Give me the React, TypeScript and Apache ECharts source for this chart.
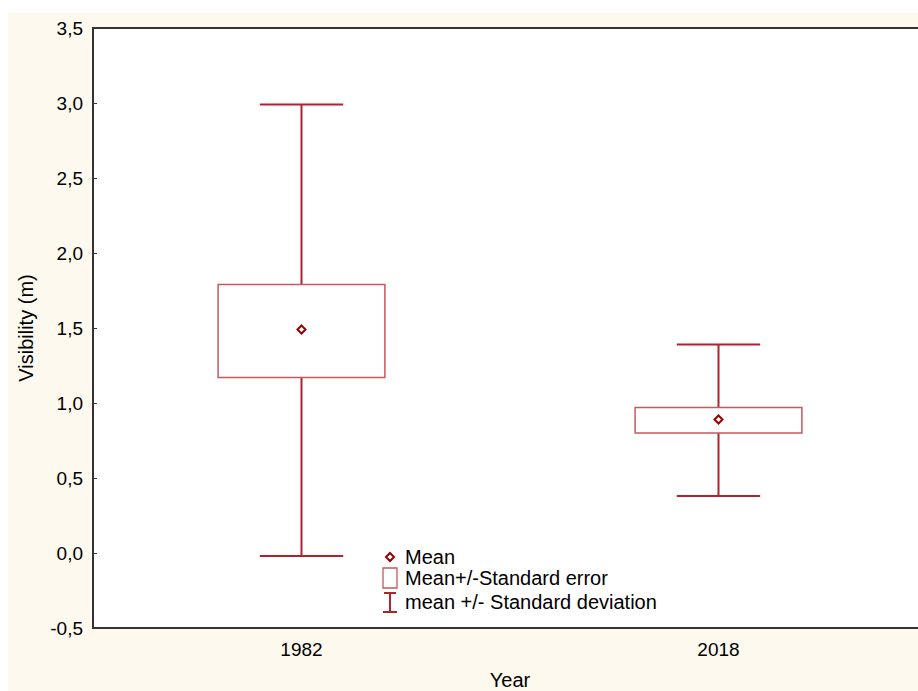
import React, { useEffect, useRef } from 'react';
import * as echarts from 'echarts';

const categories = ['1982', '2018'];
const means = [1.49, 0.89];
const seLow = [1.17, 0.8];
const seHigh = [1.79, 0.97];
const sdLow = [-0.02, 0.38];
const sdHigh = [2.99, 1.39];
const legendLabels = ['Mean', 'Mean+/-Standard error', 'mean +/- Standard deviation'];

const OX = 8;
const OY = 13;
const FONT = '"Liberation Sans", Arial, sans-serif';
const WHISKER = '#b0222c';
const BOX = '#c25a5e';
const MEANC = '#9a0000';

export default function App() {
  const ref = useRef<HTMLDivElement>(null);
  useEffect(() => {
    if (!ref.current) return;
    const chart = echarts.init(ref.current, null, { renderer: 'svg' });
    const data = categories.map((_, i) => [i, means[i], seLow[i], seHigh[i], sdLow[i], sdHigh[i]]);
    const lx = 390 - OX;
    const ly = [557 - OY, 578 - OY, 602 - OY];
    chart.setOption({
      animation: false,
      grid: {
        left: 85,
        top: 15,
        right: -9,
        bottom: 63,
        outerBoundsMode: 'none',
        containLabel: false,
        show: true,
        backgroundColor: '#ffffff',
        borderColor: '#333333',
        borderWidth: 2,
      },
      xAxis: {
        type: 'category',
        data: categories,
        name: 'Year',
        nameLocation: 'middle',
        nameGap: 42,
        nameTextStyle: { fontFamily: FONT, fontSize: 20, color: '#000' },
        axisLine: { onZero: false, lineStyle: { color: '#333', width: 2 } },
        axisTick: { inside: true, alignWithLabel: true, length: 5, lineStyle: { color: '#333' } },
        axisLabel: { fontFamily: FONT, fontSize: 19, color: '#000', margin: 12 },
        splitLine: { show: false },
      },
      yAxis: {
        type: 'value',
        min: -0.5,
        max: 3.5,
        interval: 0.5,
        name: 'Visibility (m)',
        nameLocation: 'middle',
        nameGap: 57,
        nameTextStyle: { fontFamily: FONT, fontSize: 20, color: '#000' },
        axisLine: { show: true, onZero: false, lineStyle: { color: '#333', width: 2 } },
        axisTick: { show: true, inside: true, length: 4, lineStyle: { color: '#333' } },
        axisLabel: {
          fontFamily: FONT,
          fontSize: 19,
          color: '#000',
          margin: 10,
          formatter: (v: number) => v.toFixed(1).replace('.', ','),
        },
        splitLine: { show: false },
      },
      series: [
        {
          type: 'custom',
          data,
          encode: { x: 0, y: [1, 2, 3, 4, 5] },
          renderItem: (params: any, api: any) => {
            const i = api.value(0);
            const bw = api.size([1, 0])[0];
            const cx = api.coord([i, 0])[0];
            const yMean = api.coord([i, api.value(1)])[1];
            const ySeL = api.coord([i, api.value(2)])[1];
            const ySeH = api.coord([i, api.value(3)])[1];
            const ySdL = api.coord([i, api.value(4)])[1];
            const ySdH = api.coord([i, api.value(5)])[1];
            const capW = bw * 0.2;
            const boxW = bw * 0.4;
            const d = 4;
            return {
              type: 'group',
              children: [
                { type: 'line', shape: { x1: cx, y1: ySdH, x2: cx, y2: ySdL }, style: { stroke: WHISKER, lineWidth: 2 } },
                { type: 'line', shape: { x1: cx - capW / 2, y1: ySdH, x2: cx + capW / 2, y2: ySdH }, style: { stroke: WHISKER, lineWidth: 2 } },
                { type: 'line', shape: { x1: cx - capW / 2, y1: ySdL, x2: cx + capW / 2, y2: ySdL }, style: { stroke: WHISKER, lineWidth: 2 } },
                { type: 'rect', shape: { x: cx - boxW / 2, y: ySeH, width: boxW, height: ySeL - ySeH }, style: { fill: '#fff', stroke: BOX, lineWidth: 1.5 } },
                { type: 'polygon', shape: { points: [[cx, yMean - d], [cx + d, yMean], [cx, yMean + d], [cx - d, yMean]] }, style: { fill: '#fff', stroke: MEANC, lineWidth: 2 } },
              ],
            };
          },
          z: 5,
        },
      ],
      graphic: [
        { type: 'polygon', shape: { points: [[lx, ly[0] - 4], [lx + 4, ly[0]], [lx, ly[0] + 4], [lx - 4, ly[0]]] }, style: { fill: '#fff', stroke: MEANC, lineWidth: 2 }, z: 10 },
        { type: 'rect', shape: { x: lx - 7, y: ly[1] - 10, width: 14, height: 20 }, style: { fill: '#fff', stroke: BOX, lineWidth: 1.3 }, z: 10 },
        { type: 'line', shape: { x1: lx, y1: ly[2] - 9, x2: lx, y2: ly[2] + 10 }, style: { stroke: WHISKER, lineWidth: 2 }, z: 10 },
        { type: 'line', shape: { x1: lx - 6, y1: ly[2] - 9, x2: lx + 6, y2: ly[2] - 9 }, style: { stroke: WHISKER, lineWidth: 2 }, z: 10 },
        { type: 'line', shape: { x1: lx - 7, y1: ly[2] + 10, x2: lx + 7, y2: ly[2] + 10 }, style: { stroke: WHISKER, lineWidth: 2 }, z: 10 },
        ...legendLabels.map((t, k) => ({
          type: 'text',
          x: 405 - OX,
          y: ly[k],
          style: { text: t, fontFamily: FONT, fontSize: 20, fill: '#000', textVerticalAlign: 'middle', verticalAlign: 'middle' },
          z: 10,
        })),
      ],
    });
    return () => chart.dispose();
  }, []);
  return (
    <div style={{ position: 'absolute', left: 0, top: 0, width: 918, height: 691, background: '#ffffff', overflow: 'hidden' }}>
      <div style={{ position: 'absolute', left: OX, top: OY, width: 918 - OX, height: 691 - OY, background: '#fdf9ee' }}>
        <div ref={ref} style={{ width: 918 - OX, height: 691 - OY }} />
      </div>
    </div>
  );
}
